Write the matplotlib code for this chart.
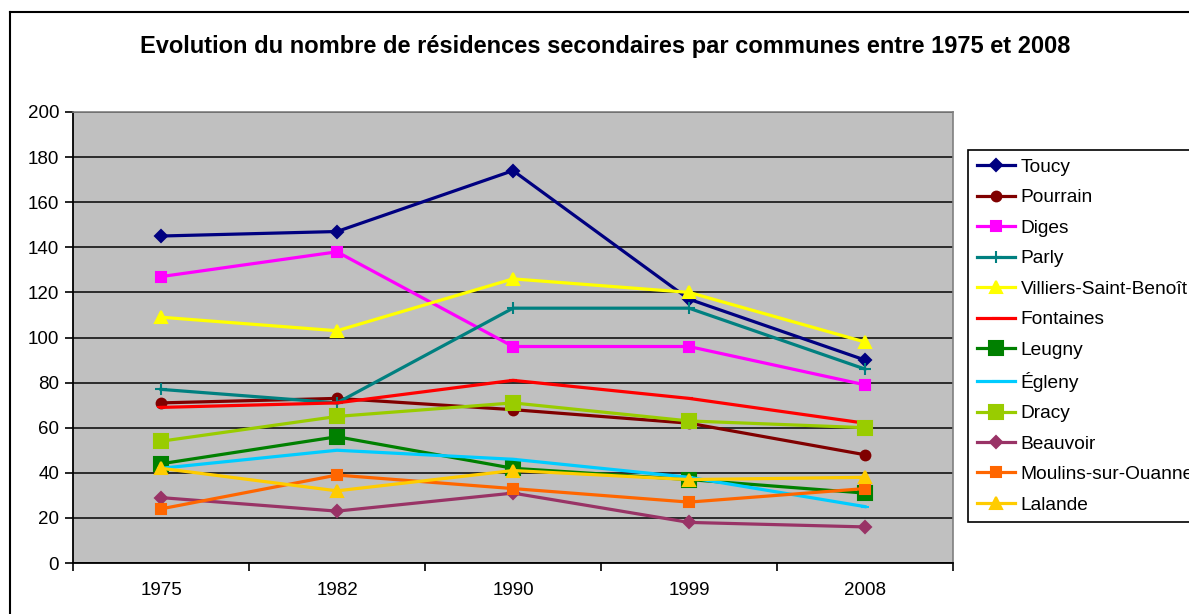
import matplotlib.pyplot as plt
from matplotlib.lines import Line2D

plt.rcParams['font.family'] = ['Liberation Sans', 'DejaVu Sans']

annees = ['1975', '1982', '1990', '1999', '2008']

toucy = [145, 147, 174, 117, 90]
pourrain = [71, 73, 68, 62, 48]
diges = [127, 138, 96, 96, 79]
parly = [77, 71, 113, 113, 86]
villiers = [109, 103, 126, 120, 98]
fontaines = [69, 71, 81, 73, 62]
leugny = [44, 56, 42, 37, 31]
egleny = [42, 50, 46, 38, 25]
dracy = [54, 65, 71, 63, 60]
beauvoir = [29, 23, 31, 18, 16]
moulins = [24, 39, 33, 27, 33]
lalande = [42, 32, 41, 37, 38]

noms = ['Toucy', 'Pourrain', 'Diges', 'Parly', 'Villiers-Saint-Benoît',
        'Fontaines', 'Leugny', 'Égleny', 'Dracy', 'Beauvoir',
        'Moulins-sur-Ouanne', 'Lalande']
series = [toucy, pourrain, diges, parly, villiers, fontaines,
          leugny, egleny, dracy, beauvoir, moulins, lalande]
couleurs = ['#000080', '#800000', '#FF00FF', '#008080', '#FFFF00', '#FF0000',
            '#008000', '#00CCFF', '#99CC00', '#993366', '#FF6600', '#FFCC00']
marqueurs = ['D', 'o', 's', '+', '^', '_', 's', '_', 's', 'D', 's', '^']
tailles = [6, 7, 7, 8, 9, 6, 10, 6, 10, 6, 7, 9]

fig = plt.figure(figsize=(11.89, 6.14), dpi=100)
ax = fig.add_axes([73 / 1189, 51 / 614, 880 / 1189, 451 / 614])
ax.set_facecolor('#C0C0C0')

x = list(range(len(annees)))
for nom, val, c, m, s in zip(noms, series, couleurs, marqueurs, tailles):
    ax.plot(x, val, color=c, marker=m, markersize=s, linewidth=2.3,
            markeredgewidth=1.5, label=nom, zorder=3)

ax.set_xlim(-0.5, 4.5)
ax.set_ylim(0, 200)
ax.set_yticks(range(0, 201, 20))
ax.yaxis.grid(True, color='#202020', linewidth=1.3)
ax.set_axisbelow(True)

# labels centres, graduations entre les categories
ax.set_xticks(x)
ax.set_xticklabels(annees)
ax.set_xticks([i - 0.5 for i in range(len(annees) + 1)], minor=True)
ax.tick_params(axis='x', which='major', length=0, pad=14, labelsize=13.5)
ax.tick_params(axis='x', which='minor', length=6, width=1.2, direction='out')
ax.tick_params(axis='y', length=6, width=1.2, direction='out', labelsize=13.5, pad=4)

for side in ['top', 'right']:
    ax.spines[side].set_color('#808080')
    ax.spines[side].set_linewidth(1.2)
for side in ['left', 'bottom']:
    ax.spines[side].set_color('black')
    ax.spines[side].set_linewidth(1.3)

fig.suptitle('Evolution du nombre de résidences secondaires par communes entre 1975 et 2008',
             x=605 / 1189, y=1 - 46 / 614, va='center', fontsize=17, fontweight='bold')

leg = ax.legend(loc='upper left', bbox_to_anchor=(968 / 1189, 1 - 150 / 614),
                bbox_transform=fig.transFigure, fontsize=13.8, frameon=True,
                fancybox=False, edgecolor='black', framealpha=1,
                handlelength=2.0, handletextpad=0.3, labelspacing=0.68,
                borderpad=0.45, borderaxespad=0)
leg.get_frame().set_linewidth(1.2)

# cadre exterieur du graphique
fig.add_artist(Line2D([10 / 1189, 10 / 1189], [-0.1, 1 - 12 / 614],
                      transform=fig.transFigure, color='black', linewidth=1.5))
fig.add_artist(Line2D([10 / 1189, 1.1], [1 - 12 / 614, 1 - 12 / 614],
                      transform=fig.transFigure, color='black', linewidth=1.5))

fig.savefig('out.png', dpi=100)
